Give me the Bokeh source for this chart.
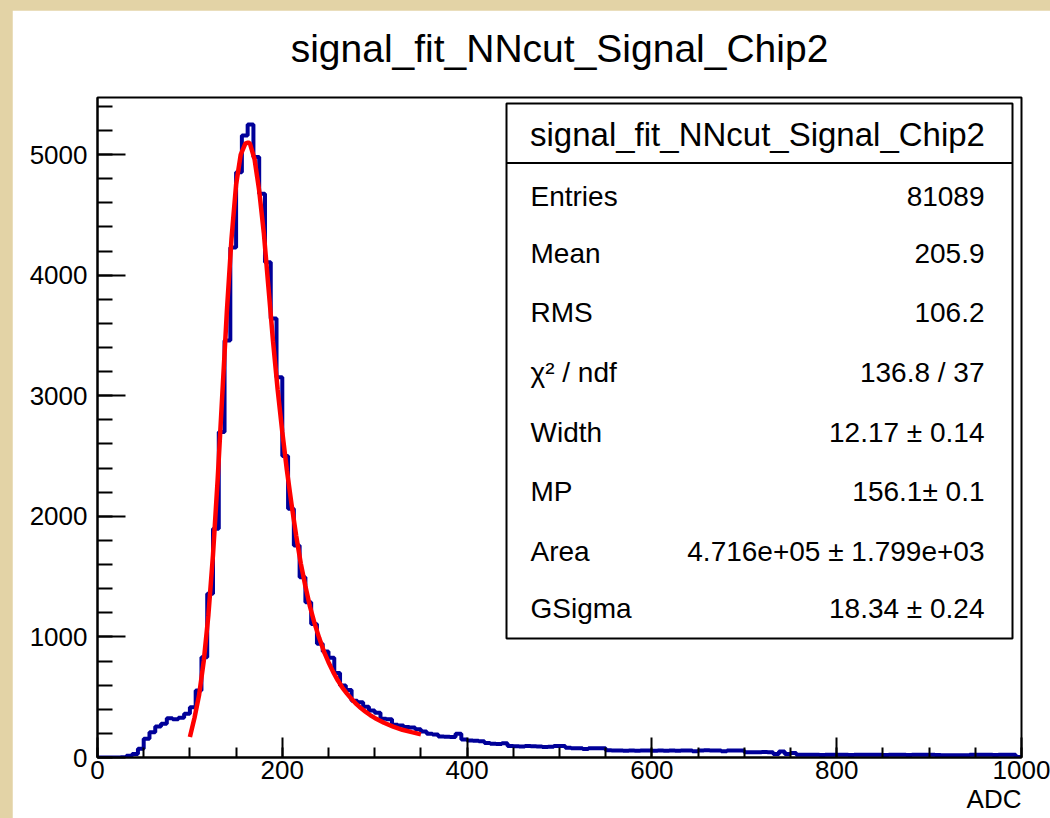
import numpy as np
from bokeh.plotting import figure
from bokeh.models import Label, FixedTicker, Range1d, Spacer, Title
from bokeh.layouts import column, row
from bokeh.embed import file_html
from bokeh.resources import INLINE

# ---------------- data ----------------
TITLE = "signal_fit_NNcut_Signal_Chip2"
X_LABEL = "ADC"
BIN_WIDTH = 6.25
X_MIN, X_MAX = 0, 1000
Y_MAX = 5473

counts = [
    0, 0, 0, 0, 3, 15, 30, 72, 155, 210,
    258, 280, 326, 318, 330, 362, 417, 556, 832, 1357,
    1896, 2700, 3458, 4229, 4853, 5158, 5249, 4980, 4674, 4107,
    3640, 3153, 2500, 2062, 1758, 1495, 1288, 1108, 943, 880,
    827, 700, 597, 560, 470, 459, 420, 390, 372, 321,
    318, 272, 265, 252, 248, 235, 215, 196, 190, 174,
    172, 170, 196, 150, 141, 138, 135, 120, 113, 112,
    118, 96, 94, 92, 95, 94, 92, 88, 90, 95,
    95, 80, 77, 77, 70, 77, 77, 76, 60, 58,
    58, 57, 58, 56, 58, 59, 57, 58, 56, 58,
    57, 58, 58, 52, 58, 60, 58, 58, 52, 58,
    58, 58, 44, 44, 44, 45, 44, 30, 50, 28,
    38, 22, 22, 23, 22, 21, 22, 22, 23, 22,
    21, 22, 22, 22, 23, 22, 21, 22, 22, 22,
    21, 22, 22, 23, 22, 21, 18, 18, 18, 18,
    18, 22, 22, 23, 22, 21, 22, 22, 22, 5,
]

fit_x = [100, 105, 110, 115, 120, 125, 130, 135, 140, 145, 150, 155, 160, 163,
         165, 170, 175, 180, 185, 190, 195, 200, 205, 210, 215, 220, 225, 230,
         235, 240, 245, 250, 255, 260, 265, 270, 275, 280, 285, 290, 295, 300,
         310, 320, 330, 340, 350]
fit_y = [170, 330, 520, 800, 1180, 1680, 2300, 3000, 3700, 4300, 4750, 5000, 5090, 5100,
         5090, 4960, 4700, 4350, 3900, 3450, 3050, 2700, 2380, 2100, 1840, 1610, 1420, 1250,
         1110, 990, 880, 790, 710, 640, 580, 530, 485, 445, 410, 380, 352, 328,
         288, 256, 230, 210, 192]

stats_header = "signal_fit_NNcut_Signal_Chip2"
stats_names = ["Entries", "Mean", "RMS", "\u03c7\u00b2 / ndf", "Width", "MP", "Area", "GSigma"]
stats_values = ["81089", "205.9", "106.2", "136.8 / 37", "12.17 \u00b1 0.14",
                "156.1\u00b1 0.1", "4.716e+05 \u00b1 1.799e+03", "18.34 \u00b1 0.24"]

x_major = [0, 200, 400, 600, 800, 1000]
y_major = [0, 1000, 2000, 3000, 4000, 5000]

# ---------------- layout constants ----------------
BEIGE = "#e3d3a6"
FONT = "Liberation Sans"
PAGE_W, PAGE_H = 1050, 818
OFF_X, OFF_Y = 12, 10
FIG_W, FIG_H = PAGE_W - OFF_X, PAGE_H - OFF_Y
FR_L, FR_T, FR_R, FR_B = 97, 97, 1021, 757   # frame in page pixels


def dx(px):
    return X_MIN + (px - FR_L) / (FR_R - FR_L) * (X_MAX - X_MIN)


def dy(py):
    return (FR_B - py) / (FR_B - FR_T) * Y_MAX


p = figure(width=FIG_W, height=FIG_H, output_backend="svg", toolbar_location=None,
           x_range=Range1d(X_MIN, X_MAX), y_range=Range1d(0, Y_MAX),
           min_border_left=FR_L - OFF_X, min_border_right=FIG_W - (FR_R - OFF_X),
           min_border_top=FR_T - OFF_Y, min_border_bottom=FIG_H - (FR_B - OFF_Y))
p.grid.visible = False
p.background_fill_color = "white"
p.border_fill_color = "white"
p.outline_line_color = "black"
p.outline_line_width = 2

# title above: a thin spacer title next to the frame, then the real title
p.add_layout(Title(text=" ", text_font_size="1px", standoff=11), "above")
p.add_layout(Title(text=TITLE, align="center", text_font=FONT, text_font_size="39px",
                   text_font_style="normal", text_color="black", standoff=28), "above")

# x label below, right aligned
p.add_layout(Title(text=X_LABEL, align="right", text_font=FONT, text_font_size="26px",
                   text_font_style="normal", text_color="black", standoff=0), "below")

# axes
p.xaxis.ticker = FixedTicker(ticks=x_major, minor_ticks=list(range(0, 1001, 50)))
p.yaxis.ticker = FixedTicker(ticks=y_major, minor_ticks=list(range(0, 5401, 200)))
for ax in (p.xaxis[0], p.yaxis[0]):
    ax.axis_line_color = "black"
    ax.axis_line_width = 2
    ax.major_tick_line_color = "black"
    ax.minor_tick_line_color = "black"
    ax.major_tick_line_width = 2
    ax.minor_tick_line_width = 2
    ax.major_tick_out = 0
    ax.minor_tick_out = 0
    ax.major_label_text_font = FONT
    ax.major_label_text_font_size = "26px"
    ax.major_label_text_color = "black"
p.xaxis.major_tick_in = 20
p.xaxis.minor_tick_in = 10
p.yaxis.major_tick_in = 28
p.yaxis.minor_tick_in = 15
p.xaxis.major_label_standoff = 3
p.yaxis.major_label_standoff = 10

# histogram
edges = [X_MIN + BIN_WIDTH * i for i in range(len(counts) + 1)]
p.step(x=edges, y=counts + [counts[-1]], mode="after", line_color="#000099", line_width=4)

# fit curve
p.line(x=fit_x, y=fit_y, line_color="#ff0000", line_width=4.5)

# stats box
BOX_L, BOX_R, BOX_T, BOX_B, BOX_DIV = 506, 1012, 103, 638, 162.5
p.quad(left=[dx(BOX_L)], right=[dx(BOX_R)], top=[dy(BOX_T)], bottom=[dy(BOX_B)],
       fill_color="white", line_color="black", line_width=2)
p.segment(x0=[dx(BOX_L)], x1=[dx(BOX_R)], y0=[dy(BOX_DIV)], y1=[dy(BOX_DIV)],
          line_color="black", line_width=2)
p.add_layout(Label(x=dx(757), y=dy(134), text=stats_header, text_font=FONT,
                   text_font_size="33px", text_align="center", text_baseline="middle",
                   text_color="black"))
row_y = [196, 253, 312, 372, 432, 491, 551, 608]
for name, val, ry in zip(stats_names, stats_values, row_y):
    p.add_layout(Label(x=dx(530), y=dy(ry), text=name, text_font=FONT,
                       text_font_size="28px", text_align="left", text_baseline="middle",
                       text_color="black"))
    p.add_layout(Label(x=dx(984), y=dy(ry), text=val, text_font=FONT,
                       text_font_size="28px", text_align="right", text_baseline="middle",
                       text_color="black"))

top = Spacer(width=PAGE_W, height=OFF_Y, styles={"background-color": BEIGE})
left = Spacer(width=OFF_X, height=FIG_H, styles={"background-color": BEIGE})
layout = column(top, row(left, p, spacing=0), spacing=0, styles={"background-color": BEIGE})

open("out.html", "w").write(file_html(layout, INLINE))
